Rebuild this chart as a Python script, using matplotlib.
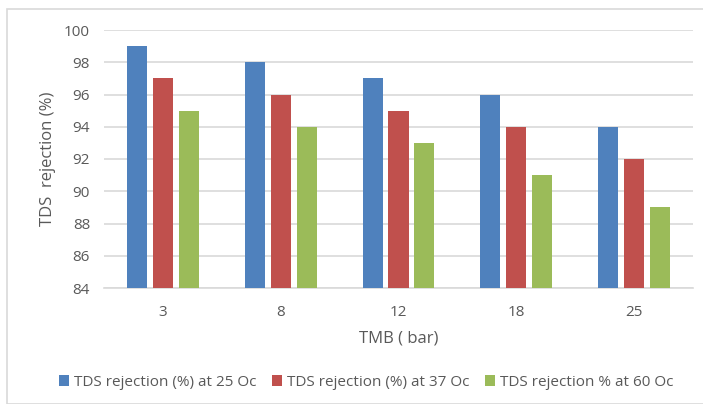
import matplotlib
matplotlib.use("Agg")
import matplotlib.pyplot as plt
import numpy as np
from matplotlib.patches import Rectangle

plt.rcParams['font.family'] = ['Open Sans', 'DejaVu Sans']

categories = ["3", "8", "12", "18", "25"]
rej_25 = [99, 98, 97, 96, 94]
rej_37 = [97, 96, 95, 94, 92]
rej_60 = [95, 94, 93, 91, 89]
series_labels = ["TDS rejection (%) at 25 Oc",
                 "TDS rejection (%) at 37 Oc",
                 "TDS rejection % at 60 Oc"]
colors = ["#4F81BD", "#C0504D", "#9BBB59"]
yticks = [84, 86, 88, 90, 92, 94, 96, 98, 100]

W, H = 703, 404
fig = plt.figure(figsize=(W / 100, H / 100), dpi=100)
fig.patches.append(Rectangle((7 / W, 0), 1, 1 - 9 / H, transform=fig.transFigure,
                             fill=False, edgecolor="#D9D9D9", linewidth=1.2))

left, right, top, bottom = 104, 693, 30, 288
ax = fig.add_axes([left / W, 1 - bottom / H, (right - left) / W, (bottom - top) / H])

x = np.arange(len(categories))
bw = 0.17
step = 0.22
text_c = "#595959"
for i, (vals, lab, c) in enumerate(zip([rej_25, rej_37, rej_60], series_labels, colors)):
    ax.bar(x + (i - 1) * step, np.array(vals) - 84, bw, bottom=84, color=c, label=lab,
           zorder=3)

ax.set_xlim(-0.5, len(categories) - 0.5)
ax.set_ylim(84, 100)
ax.set_yticks(yticks)
ax.set_xticks(x)
ax.set_xticklabels(categories)
ax.grid(axis="y", color="#D9D9D9", linewidth=1.2, zorder=0)
for s in ["top", "right", "left"]:
    ax.spines[s].set_visible(False)
ax.spines["bottom"].set_color("#D9D9D9")
ax.spines["bottom"].set_linewidth(1.2)
ax.tick_params(axis="both", length=0, colors=text_c, labelsize=11)
ax.tick_params(axis="y", pad=10)
ax.tick_params(axis="x", pad=12)

ax.set_ylabel("TDS  rejection (%)", color=text_c, fontsize=12, labelpad=6)
ax.set_xlabel("TMB ( bar)", color=text_c, fontsize=12, labelpad=8)

leg = ax.legend(loc="center", bbox_to_anchor=(366 / W, 1 - 382 / H),
                bbox_transform=fig.transFigure, ncol=3, frameon=False,
                fontsize=11, handlelength=0.7, handleheight=0.7, handletextpad=0.3,
                columnspacing=1.0, labelcolor=text_c)

fig.savefig("out.png", dpi=100)
